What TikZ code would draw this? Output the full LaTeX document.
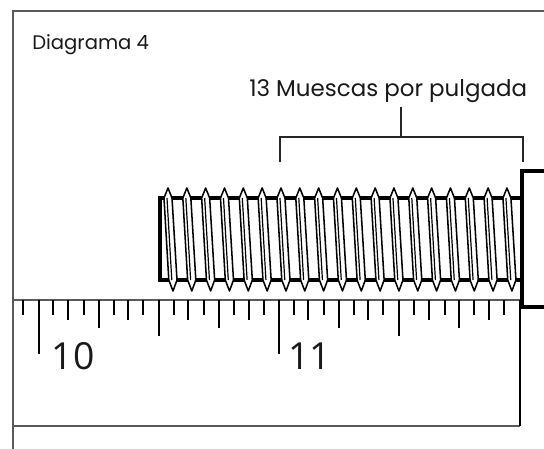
\documentclass[tikz,border=0pt]{standalone}
\usepackage{fontspec}
\setmainfont{Poppins}
\newfontfamily\numfont{Open Sans}
\begin{document}
\begin{tikzpicture}[x=0.75pt,y=-0.75pt,
  frameline/.style={draw=black!65,line width=1.1pt},
  bracketline/.style={draw=black!85,line width=0.8pt},
  tickline/.style={draw=black,line width=0.95pt},
  boltline/.style={draw=black,line width=2.3pt,line join=miter},
  thread/.style={draw=black,fill=white,line width=1.15pt,line join=round},
  threadin/.style={draw=black,line width=0.9pt},
  label/.style={inner sep=0pt,anchor=base west,text=black!90}]
\useasboundingbox (0,0) rectangle (544,449);
\draw[frameline] (544,11) -- (13,11) -- (13,449);
\draw[frameline] (13,426) -- (520,426);
\draw[frameline] (13,300) -- (520,300);
\draw[tickline] (520,300) -- (520,426);
\node[label,font=\fontsize{14.7}{18}\selectfont] (title) at (32,50) {Diagrama 4};
\node[label,font=\fontsize{17.2}{20}\selectfont] (muescas) at (249,97) {13 Muescas por pulgada};
\node[label,font=\numfont\fontsize{28}{32}\selectfont] (ten) at (51.5,370) {10};
\node[label,font=\numfont\fontsize{28}{32}\selectfont] (eleven) at (288,370) {11};
% bracket
\coordinate (stemtop) at (401,107);
\coordinate (stembot) at (401,137);
\coordinate (bl) at (280,162);
\coordinate (br) at (523,162);
\draw[bracketline] (bl) |- (stembot) -| (br);
\draw[bracketline] (stemtop) -- (stembot);
% ticks
\foreach \x/\b in {23/315,39/354,53/315,68/320,84/315,99/328,114/315,128/320,143/315,159/336,
  174/315,188/320,204/315,219/328,234/315,249/320,264/315,279/354,
  294/315,308/320,324/315,339/328,354/315,368/320,383/315,399/336,
  414/315,429/320,445/315,459/328,474/315,489/320,504/315}
  \draw[tickline] (\x,300) -- (\x,\b);
% bolt body
\draw[boltline] (522,198) -- (160,198) -- (160,280) -- (522,280);
% threads
\foreach \i in {0,...,18}{
  \pgfmathsetmacro{\t}{168+18.83*\i}
  \begin{scope}[xshift=\t*0.75pt]
    \draw[thread] (0,188) -- (4,198) -- (9,280) -- (5,291) -- (0.8,280) -- (-4,198) -- cycle;
    \draw[threadin] (-1,198) -- (3.8,280);
  \end{scope}
}
% head
\draw[boltline] (544,171) -- (522,171) -- (522,307) -- (544,307);
\end{tikzpicture}
\end{document}
